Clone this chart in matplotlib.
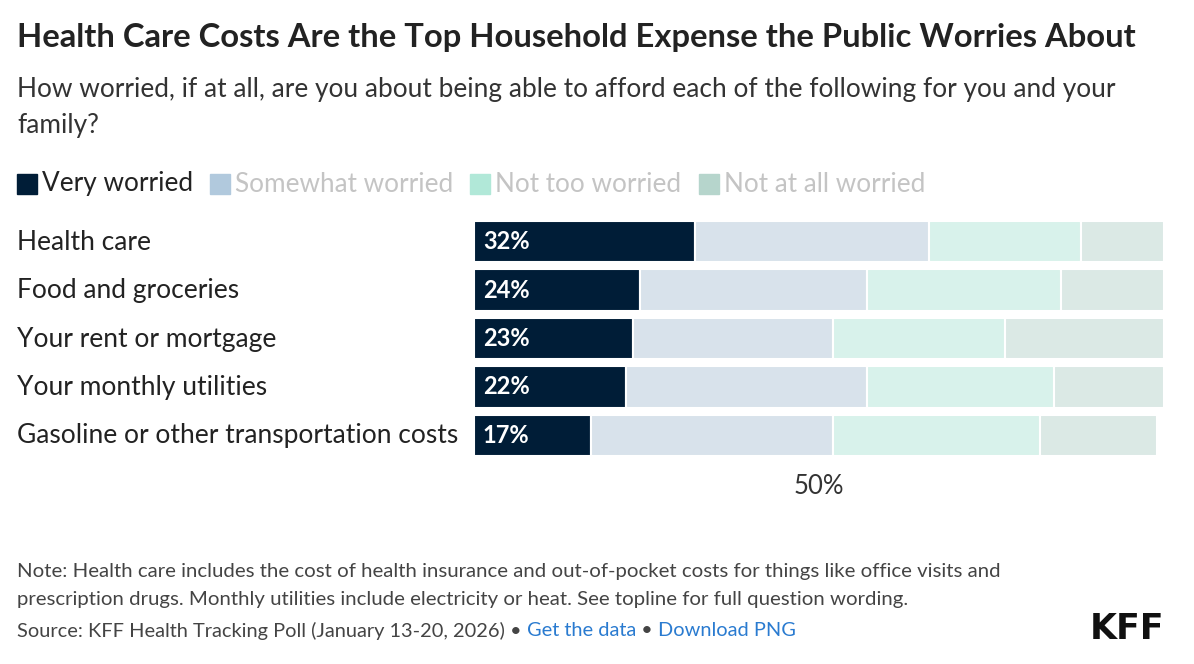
import matplotlib
matplotlib.use("Agg")
import matplotlib.pyplot as plt
from matplotlib.patches import Rectangle

plt.rcParams['font.family'] = ['Lato', 'DejaVu Sans']

categories = ["Health care", "Food and groceries", "Your rent or mortgage",
              "Your monthly utilities", "Gasoline or other transportation costs"]
series_names = ["Very worried", "Somewhat worried", "Not too worried", "Not at all worried"]
very = [32, 24, 23, 22, 17]
somewhat = [34, 33, 29, 35, 35]
not_too = [22, 28, 25, 27, 30]
not_at_all = [12, 15, 23, 16, 17]

bar_colors = ["#001d37", "#d8e2eb", "#d8f2eb", "#dbe9e5"]
swatch_colors = ["#001d37", "#b1c9dd", "#b1e8d8", "#b6d5cc"]
legend_text_colors = ["#222222", "#c4c4c4", "#c4c4c4", "#c4c4c4"]

W, H = 1194, 664
fig = plt.figure(figsize=(W / 100, H / 100), dpi=100)

# axes placement in pixels
ax_left, ax_right = 474, 1164
ax_top, ax_bot = 217.25, 459.75
ax = fig.add_axes([ax_left / W, 1 - ax_bot / H, (ax_right - ax_left) / W, (ax_bot - ax_top) / H])

series = [very, somewhat, not_too, not_at_all]
y = list(range(len(categories)))
left = [0] * len(categories)
for vals, col in zip(series, bar_colors):
    ax.barh(y, vals, left=left, height=0.85, color=col, edgecolor="white", linewidth=1.5)
    left = [l + v for l, v in zip(left, vals)]

for i, v in enumerate(very):
    ax.text(1.3, i, f"{v}%", color="white", fontsize=17, fontweight="bold", va="center", ha="left")

ax.set_xlim(0, 100)
ax.set_ylim(len(categories) - 0.5, -0.5)
ax.set_yticks([])
ax.set_xticks([50])
ax.set_xticklabels(["50%"], fontsize=18.5, color="#333333")
ax.tick_params(axis="x", length=0, pad=10)
for s in ax.spines.values():
    s.set_visible(False)

for i, c in enumerate(categories):
    fig.text(17 / W, 1 - (242 + 48.5 * i) / H, c, fontsize=19, color="#222222", va="center", ha="left")

# title and subtitle
fig.text(17 / W, 1 - 37 / H, "Health Care Costs Are the Top Household Expense the Public Worries About",
         fontsize=23.6, fontweight="bold", color="#222222", va="center", ha="left")
fig.text(17 / W, 1 - 89 / H, "How worried, if at all, are you about being able to afford each of the following for you and your",
         fontsize=18.9, color="#333333", va="center", ha="left")
fig.text(17 / W, 1 - 125 / H, "family?", fontsize=18.9, color="#333333", va="center", ha="left")

# legend
fig.canvas.draw()
renderer = fig.canvas.get_renderer()
x = 17
ly = 184
for name, sc, tc in zip(series_names, swatch_colors, legend_text_colors):
    fig.patches.append(Rectangle((x / W, 1 - (ly + 10) / H), 20 / W, 20 / H,
                                 transform=fig.transFigure, color=sc))
    t = fig.text((x + 25) / W, 1 - ly / H, name, fontsize=18.8, color=tc, va="center", ha="left")
    wpx = t.get_window_extent(renderer).width
    x = x + 25 + wpx + 17

# footer
fig.text(17 / W, 1 - 572 / H, "Note: Health care includes the cost of health insurance and out-of-pocket costs for things like office visits and",
         fontsize=14.7, color="#444444", va="center", ha="left")
fig.text(17 / W, 1 - 599 / H, "prescription drugs. Monthly utilities include electricity or heat. See topline for full question wording.",
         fontsize=14.7, color="#444444", va="center", ha="left")
parts = [("Source: KFF Health Tracking Poll (January 13-20, 2026) \u2022 ", "#444444"),
         ("Get the data", "#2a7bd0"),
         (" \u2022 ", "#444444"),
         ("Download PNG", "#2a7bd0")]
x = 17
for txt, col in parts:
    t = fig.text(x / W, 1 - 631 / H, txt, fontsize=14.4, color=col, va="center", ha="left")
    x += t.get_window_extent(renderer).width

fig.text(1164 / W, 1 - 629 / H, "KFF", fontsize=25, fontweight="bold", color="#111111",
         family=["DejaVu Sans"], va="center", ha="right")

fig.savefig("out.png", dpi=100, facecolor="white")
